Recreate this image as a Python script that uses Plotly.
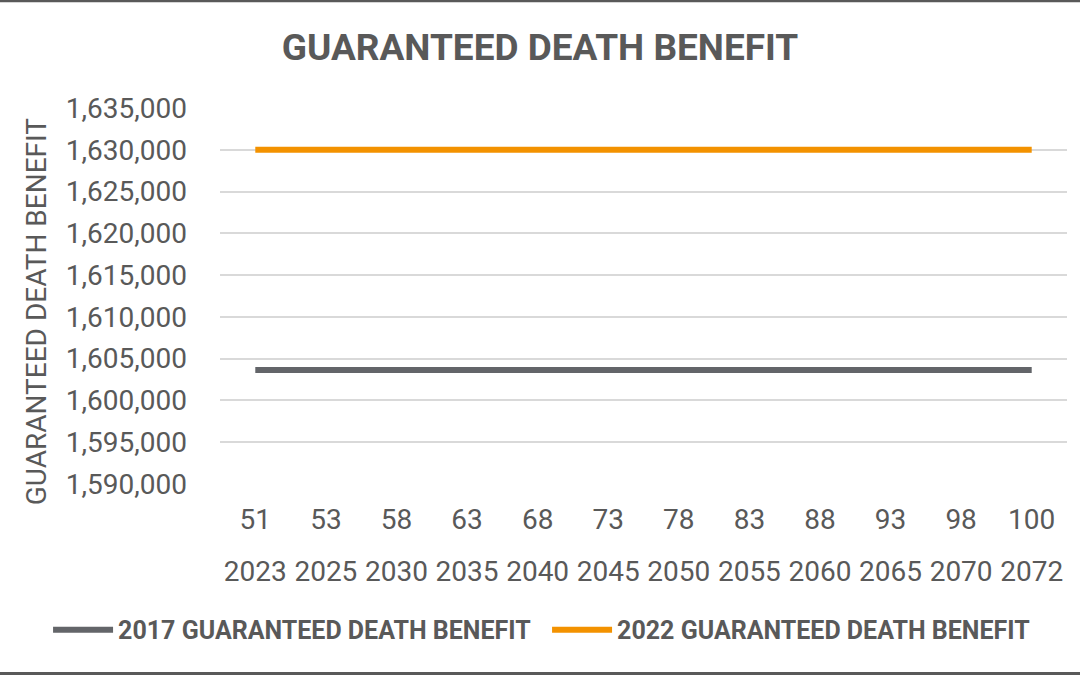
import plotly.graph_objects as go

# ── data ──────────────────────────────────────────────────────────────────────

AGES = ["51", "53", "58", "63", "68", "73", "78", "83", "88", "93", "98", "100"]
YEARS = ["2023", "2025", "2030", "2035", "2040", "2045",
         "2050", "2055", "2060", "2065", "2070", "2072"]

BENEFIT_2017 = [1603650, 1603650, 1603650, 1603650, 1603650, 1603650,
                1603650, 1603650, 1603650, 1603650, 1603650, 1603650]
BENEFIT_2022 = [1630000, 1630000, 1630000, 1630000, 1630000, 1630000,
                1630000, 1630000, 1630000, 1630000, 1630000, 1630000]

Y_TICKS = [1590000, 1595000, 1600000, 1605000, 1610000,
           1615000, 1620000, 1625000, 1630000, 1635000]

# ── style ─────────────────────────────────────────────────────────────────────

TEXT = "#595959"
GRID = "#d9d9d9"
GREY = "#636569"
ORANGE = "#F39200"
FONT = "Roboto"

fig = go.Figure()

fig.add_trace(go.Scatter(
    x=AGES, y=BENEFIT_2017, mode="lines",
    name="<b>2017 GUARANTEED DEATH BENEFIT</b>",
    line=dict(color=GREY, width=6),
))
fig.add_trace(go.Scatter(
    x=AGES, y=BENEFIT_2022, mode="lines",
    name="<b>2022 GUARANTEED DEATH BENEFIT</b>",
    line=dict(color=ORANGE, width=6),
))

# dummy trace so the second (years) axis gets drawn
fig.add_trace(go.Scatter(
    x=[0, 11], y=[None, None], xaxis="x2", mode="lines",
    showlegend=False, hoverinfo="skip",
))

fig.update_layout(
    width=1080,
    height=675,
    paper_bgcolor="white",
    plot_bgcolor="white",
    font=dict(family=FONT, color=TEXT, size=28),
    margin=dict(l=220, r=13, t=108, b=191, autoexpand=False),
    title=dict(
        text="<b>GUARANTEED DEATH BENEFIT</b>",
        x=0.5, xanchor="center", y=0.93, yanchor="middle",
        font=dict(size=37, color=TEXT, family=FONT),
    ),
    xaxis=dict(
        type="category",
        range=[-0.5, 11.5],
        showgrid=False, zeroline=False, showline=False,
        ticks="", ticklabelstandoff=16,
        tickfont=dict(size=28, color=TEXT),
    ),
    xaxis2=dict(
        overlaying="x", side="bottom", anchor="y",
        range=[-0.5, 11.5],
        tickmode="array",
        tickvals=list(range(len(YEARS))),
        ticktext=YEARS,
        showgrid=False, zeroline=False, showline=False,
        ticks="", ticklabelstandoff=68,
        tickfont=dict(size=28, color=TEXT),
    ),
    yaxis=dict(
        range=[1590000, 1635000],
        tickvals=Y_TICKS,
        tickformat=",d",
        showgrid=True, gridcolor=GRID, gridwidth=2,
        zeroline=False, showline=False,
        ticks="", ticklabelstandoff=32,
        tickfont=dict(size=28, color=TEXT),
    ),
    legend=dict(
        orientation="h",
        x=-0.203, xanchor="left",
        y=-0.388, yanchor="middle",
        font=dict(size=25, color=TEXT),
        itemwidth=60,
        entrywidth=424,
    ),
    showlegend=True,
)

# y axis title, sits a little below the plot's middle like the original
fig.add_annotation(
    text="GUARANTEED DEATH BENEFIT", textangle=-90,
    xref="paper", yref="paper", x=-0.217, y=0.46,
    xanchor="center", yanchor="middle", showarrow=False,
    font=dict(size=28, color=TEXT),
)

# frame lines at top and bottom of the figure
fig.add_shape(type="line", xref="paper", yref="paper",
              x0=-0.3, x1=1.1, y0=1.285, y1=1.285,
              line=dict(color=TEXT, width=3))
fig.add_shape(type="line", xref="paper", yref="paper",
              x0=-0.3, x1=1.1, y0=-0.504, y1=-0.504,
              line=dict(color=TEXT, width=3))

fig.write_html("out.html", config={"displayModeBar": False},
               post_script="document.body.style.margin='0';")
